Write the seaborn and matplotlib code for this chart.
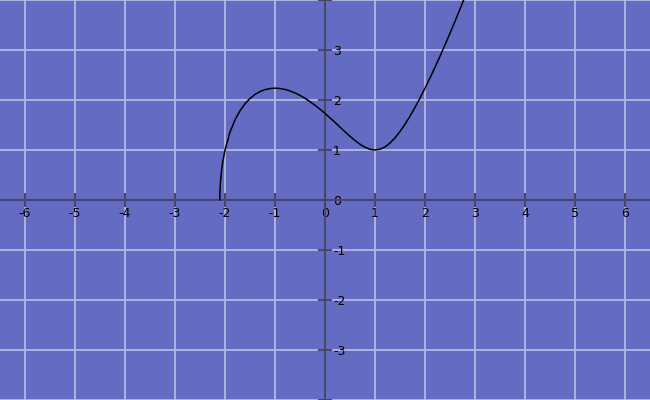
import seaborn as sns
import matplotlib.pyplot as plt
import pandas as pd

# points
x_vals = [-2.104, -2.1, -2.09, -2.07, -2.05, -2.0, -1.9, -1.8, -1.7, -1.6, -1.5,
          -1.4, -1.3, -1.2, -1.1, -1.0, -0.9, -0.8, -0.7, -0.6, -0.5, -0.4, -0.3,
          -0.2, -0.1, 0.0, 0.1, 0.2, 0.3, 0.4, 0.5, 0.6, 0.7, 0.8, 0.9, 1.0, 1.1,
          1.2, 1.3, 1.4, 1.5, 1.6, 1.7, 1.8, 1.9, 2.0, 2.1, 2.2, 2.3, 2.4, 2.5,
          2.6, 2.7, 2.8]
y_vals = [0.0, 0.197, 0.375, 0.583, 0.731, 1.0, 1.357, 1.603, 1.785, 1.925, 2.031,
          2.111, 2.169, 2.207, 2.229, 2.236, 2.230, 2.211, 2.181, 2.141, 2.092, 2.034, 1.968,
          1.895, 1.816, 1.732, 1.643, 1.552, 1.458, 1.365, 1.275, 1.190, 1.115, 1.055, 1.014, 1.0, 1.015,
          1.062, 1.139, 1.243, 1.369, 1.515, 1.677, 1.853, 2.039, 2.236, 2.441, 2.655, 2.875, 3.102, 3.335,
          3.574, 3.819, 4.068]
x_ticks = [-6, -5, -4, -3, -2, -1, 0, 1, 2, 3, 4, 5, 6]
y_ticks = [-4, -3, -2, -1, 0, 1, 2, 3, 4]
y_labels = ['', '-3', '-2', '-1', '0', '1', '2', '3', '']

df = pd.DataFrame({'x': x_vals, 'y': y_vals})

sns.set_style('white')
plt.rcParams['font.family'] = ['DejaVu Sans']

fig = plt.figure(figsize=(6.5, 4), dpi=100)
ax = fig.add_axes([0, 0, 1, 1])
ax.set_facecolor('#646bc2')

sns.lineplot(data=df, x='x', y='y', sort=False, color='black', linewidth=1.1, ax=ax, zorder=5)

ax.set_xlim(-6.5, 6.5)
ax.set_ylim(-4, 4)
ax.set_xticks(x_ticks)
ax.set_xticklabels([str(t) for t in x_ticks])
ax.set_yticks(y_ticks)
ax.set_yticklabels(y_labels)
ax.grid(True, color='#b8bae2', linewidth=1.4, alpha=0.9)
ax.set_axisbelow(True)

for s in ['top', 'left']:
    ax.spines[s].set_visible(False)
ax.spines['bottom'].set_position(('data', 0))
ax.spines['right'].set_position(('data', 0))
for s in ['bottom', 'right']:
    ax.spines[s].set_color('#45456a')
    ax.spines[s].set_linewidth(1.4)
ax.yaxis.set_ticks_position('right')
ax.xaxis.set_ticks_position('bottom')
ax.tick_params(axis='both', direction='inout', length=9.5, width=1.4, color='#45456a',
               labelsize=9, labelcolor='black')
ax.tick_params(axis='x', pad=0)
ax.tick_params(axis='y', pad=1)
ax.set_xlabel('')
ax.set_ylabel('')

fig.savefig('out.png', dpi=100)
